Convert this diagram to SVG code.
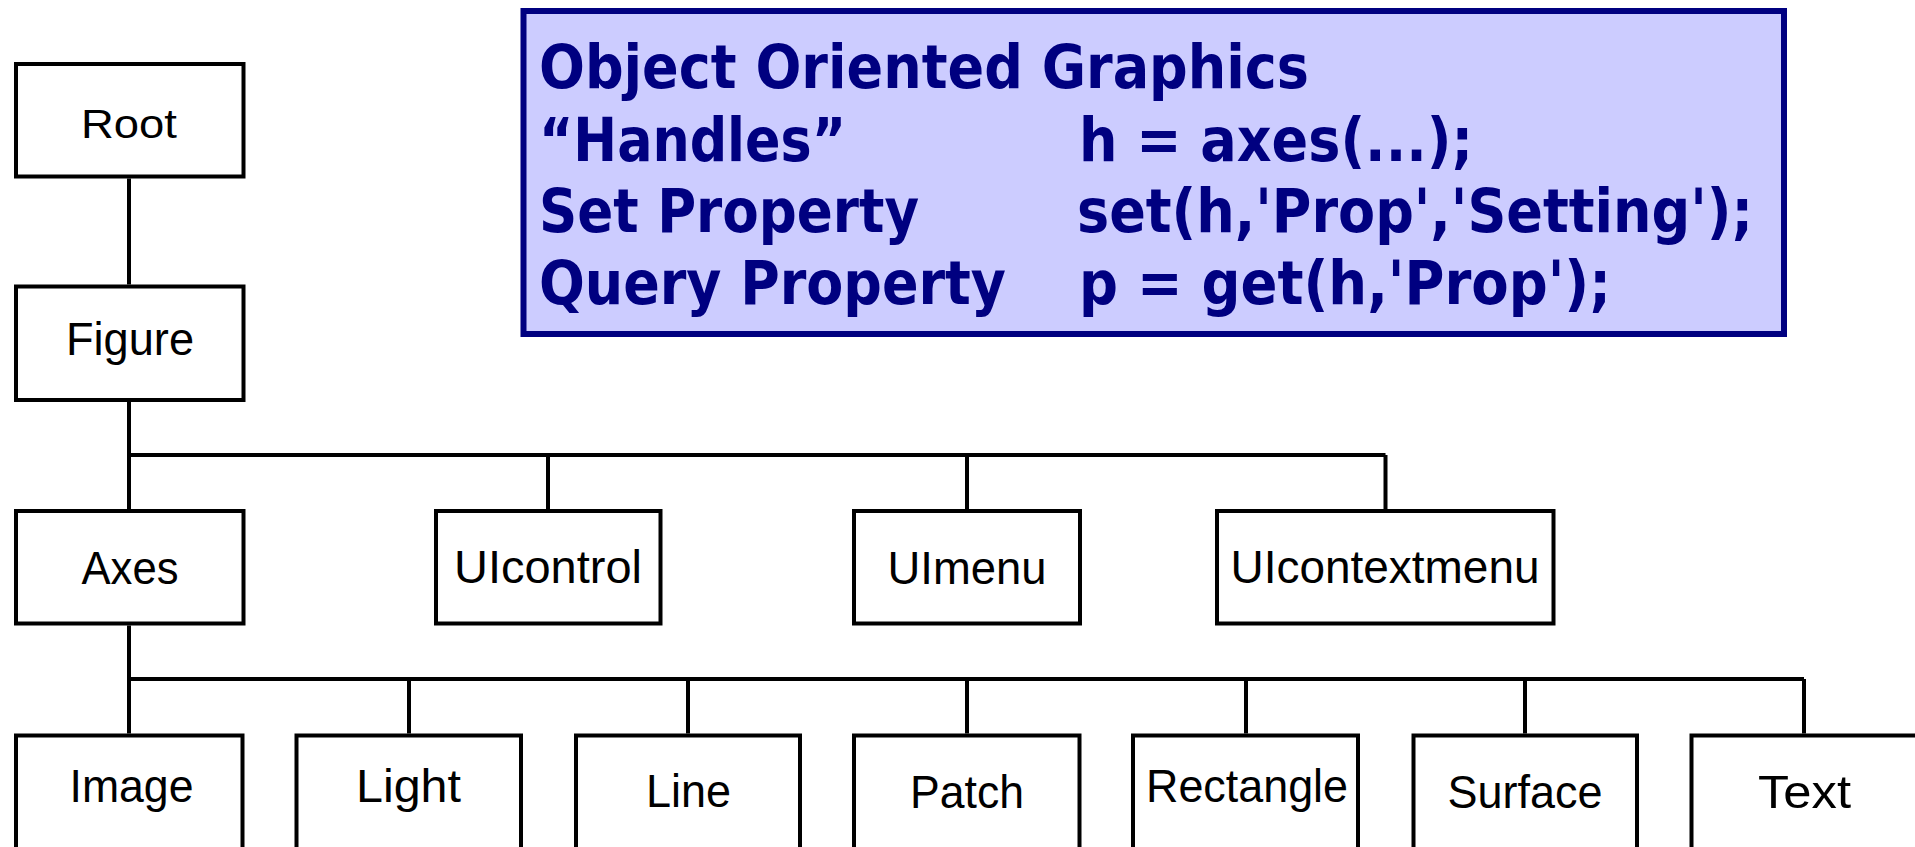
<svg xmlns="http://www.w3.org/2000/svg" width="1915" height="847" viewBox="0 0 1915 847">
<style>
.box{fill:#fff;stroke:#000;stroke-width:4}
.conn{fill:none;stroke:#000;stroke-width:4}
.lbl{font-family:"Liberation Sans",Arial,sans-serif;font-size:46px;fill:#000}
.info{font-family:"DejaVu Sans Condensed","DejaVu Sans",sans-serif;font-weight:bold;font-size:61px;fill:#000080}
</style>
<rect width="1915" height="847" fill="#fff"/>
<g id="connectors">
<path class="conn" d="M129 178.5V284.5M129 402V509M129 455H1385.5M548 455V509M967 455V509M1385.5 455V509M129 625.5V733.5M129 679H1804M409 679V733.5M688 679V733.5M967 679V733.5M1246 679V733.5M1525 679V733.5M1804 679V733.5"/>
</g>
<g id="node-root"><rect class="box" x="16" y="64" width="227.5" height="112.5"/><text class="lbl" style="font-size:41px" x="81" y="138" textLength="96" lengthAdjust="spacingAndGlyphs">Root</text></g>
<g id="node-figure"><rect class="box" x="16" y="286.5" width="227.5" height="113.5"/><text class="lbl" x="66" y="355" textLength="128" lengthAdjust="spacingAndGlyphs">Figure</text></g>
<g id="node-axes"><rect class="box" x="16" y="511" width="227.5" height="112.5"/><text class="lbl" x="81.5" y="584" textLength="97" lengthAdjust="spacingAndGlyphs">Axes</text></g>
<g id="node-uicontrol"><rect class="box" x="436" y="511" width="224.5" height="112.5"/><text class="lbl" x="454" y="583.3" textLength="188" lengthAdjust="spacingAndGlyphs">UIcontrol</text></g>
<g id="node-uimenu"><rect class="box" x="854" y="511" width="226" height="112.5"/><text class="lbl" x="887.5" y="584" textLength="159" lengthAdjust="spacingAndGlyphs">UImenu</text></g>
<g id="node-uicontextmenu"><rect class="box" x="1217" y="511" width="336.5" height="112.5"/><text class="lbl" x="1230.5" y="583.3" textLength="309" lengthAdjust="spacingAndGlyphs">UIcontextmenu</text></g>
<g id="node-image"><rect class="box" x="16" y="735.5" width="226.5" height="200"/><text class="lbl" x="69.5" y="801.7" textLength="124" lengthAdjust="spacingAndGlyphs">Image</text></g>
<g id="node-light"><rect class="box" x="296.5" y="735.5" width="224.5" height="200"/><text class="lbl" x="356" y="801.7" textLength="105" lengthAdjust="spacingAndGlyphs">Light</text></g>
<g id="node-line"><rect class="box" x="576" y="735.5" width="224" height="200"/><text class="lbl" x="646" y="806.7" textLength="85" lengthAdjust="spacingAndGlyphs">Line</text></g>
<g id="node-patch"><rect class="box" x="854" y="735.5" width="225.5" height="200"/><text class="lbl" x="910" y="808.3" textLength="114" lengthAdjust="spacingAndGlyphs">Patch</text></g>
<g id="node-rectangle"><rect class="box" x="1133" y="735.5" width="225" height="200"/><text class="lbl" x="1146" y="801.7" textLength="202" lengthAdjust="spacingAndGlyphs">Rectangle</text></g>
<g id="node-surface"><rect class="box" x="1413.5" y="735.5" width="223.5" height="200"/><text class="lbl" x="1447.5" y="808" textLength="155" lengthAdjust="spacingAndGlyphs">Surface</text></g>
<g id="node-text"><rect class="box" x="1691.5" y="735.5" width="300" height="200"/><text class="lbl" x="1758" y="808.3" textLength="93" lengthAdjust="spacingAndGlyphs">Text</text></g>
<g id="info-box">
<rect x="523.5" y="11" width="1260.5" height="323" fill="#ccccff" stroke="#000080" stroke-width="6"/>
<text class="info" x="539" y="88" textLength="770" lengthAdjust="spacingAndGlyphs">Object Oriented Graphics</text>
<text class="info" x="539" y="161" textLength="307" lengthAdjust="spacingAndGlyphs">“Handles”</text>
<text class="info" x="1079" y="161" textLength="394" lengthAdjust="spacingAndGlyphs">h = axes(...);</text>
<text class="info" x="539" y="232" textLength="380" lengthAdjust="spacingAndGlyphs">Set Property</text>
<text class="info" x="1077" y="232" textLength="676" lengthAdjust="spacingAndGlyphs">set(h,'Prop','Setting');</text>
<text class="info" x="539" y="304" textLength="467" lengthAdjust="spacingAndGlyphs">Query Property</text>
<text class="info" x="1079" y="304" textLength="532" lengthAdjust="spacingAndGlyphs">p = get(h,'Prop');</text>
</g>
</svg>
